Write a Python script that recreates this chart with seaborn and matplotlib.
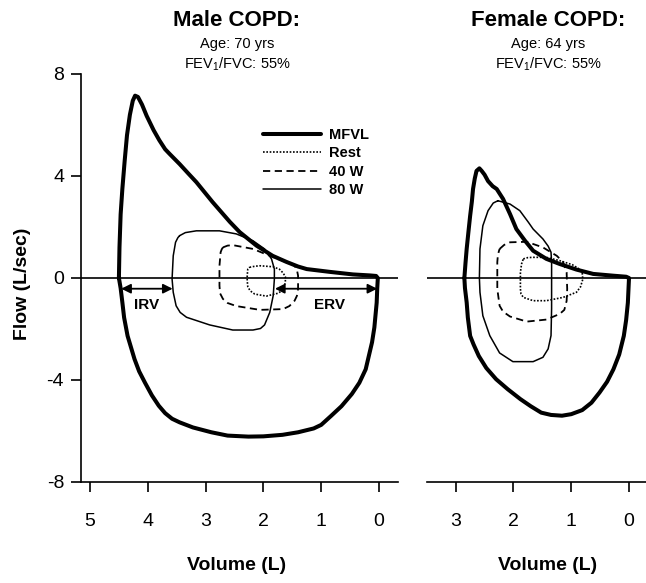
import matplotlib
matplotlib.use("Agg")
import matplotlib.pyplot as plt
from matplotlib.lines import Line2D
import seaborn as sns
import pandas as pd

sns.set_theme(style="white")
plt.rcParams["font.family"] = ["Liberation Sans", "DejaVu Sans"]
plt.rcParams["mathtext.fontset"] = "custom"
plt.rcParams["mathtext.rm"] = "Liberation Sans"
plt.rcParams["mathtext.default"] = "rm"
plt.rcParams["axes.unicode_minus"] = False
plt.rcParams["text.color"] = "black"
plt.rcParams["xtick.color"] = "black"
plt.rcParams["ytick.color"] = "black"

# ---------------- Male COPD (volume in L, flow in L/sec) ----------------
male_mfvl_vol = [4.50, 4.49, 4.47, 4.44, 4.40, 4.36, 4.31, 4.26, 4.22, 4.17, 4.10, 4.02, 3.90,
                 3.80, 3.70, 3.62, 3.45, 3.30, 3.16, 2.88, 2.58, 2.41, 2.12, 1.84, 1.60, 1.40,
                 1.25, 0.85, 0.45, 0.15, 0.05, 0.02,
                 0.03, 0.04, 0.08, 0.12, 0.23, 0.34, 0.47, 0.65, 0.83, 1.00, 1.13, 1.40, 1.67,
                 2.00, 2.26, 2.62, 2.90, 3.22, 3.45, 3.58, 3.70, 3.81, 3.93, 4.05, 4.15, 4.23,
                 4.35, 4.41, 4.44, 4.47, 4.50]
male_mfvl_flow = [0.00, 1.20, 2.50, 3.50, 4.60, 5.60, 6.40, 6.95, 7.15, 7.10, 6.80, 6.36, 5.80,
                  5.40, 5.05, 4.86, 4.47, 4.10, 3.76, 2.98, 2.20, 1.80, 1.27, 0.87, 0.63, 0.45,
                  0.35, 0.24, 0.14, 0.10, 0.08, 0.00,
                  -0.40, -0.97, -1.94, -2.52, -3.58, -4.11, -4.55, -5.03, -5.41, -5.76, -5.90, -6.05, -6.15,
                  -6.21, -6.22, -6.18, -6.05, -5.86, -5.66, -5.52, -5.30, -5.01, -4.60, -4.10, -3.66, -3.18,
                  -2.27, -1.55, -0.96, -0.40, 0.00]

male_80w_vol = [3.45, 3.35, 3.16, 2.76, 2.47, 2.18, 1.98, 1.86, 1.81, 1.81, 1.83, 1.89, 1.98,
                2.05, 2.18, 2.53, 2.93, 3.33, 3.44, 3.51, 3.56, 3.58, 3.56, 3.52, 3.48, 3.45]
male_80w_flow = [1.66, 1.78, 1.85, 1.85, 1.73, 1.46, 1.14, 0.75, 0.35, -0.04, -0.69, -1.35, -1.84,
                 -1.98, -2.04, -2.04, -1.84, -1.54, -1.35, -1.09, -0.56, -0.04, 0.87, 1.40, 1.58, 1.66]

male_40w_vol = [2.70, 2.62, 2.53, 2.18, 1.89, 1.60, 1.46, 1.42, 1.40, 1.40, 1.42, 1.46, 1.55,
                1.66, 2.06, 2.47, 2.62, 2.70, 2.75, 2.76, 2.76, 2.74, 2.72, 2.70]
male_40w_flow = [1.20, 1.27, 1.29, 1.14, 0.87, 0.62, 0.48, 0.32, 0.09, -0.43, -0.70, -0.89, -1.10,
                 -1.22, -1.25, -1.10, -0.98, -0.82, -0.60, -0.30, 0.48, 1.01, 1.13, 1.20]

male_rest_vol = [2.24, 2.15, 2.06, 1.83, 1.72, 1.66, 1.62, 1.62, 1.64, 1.68, 1.75, 1.95, 2.15,
                 2.23, 2.27, 2.28, 2.28, 2.27, 2.24]
male_rest_flow = [0.42, 0.46, 0.48, 0.44, 0.34, 0.20, 0.05, -0.15, -0.36, -0.50, -0.60, -0.71, -0.63,
                  -0.50, -0.34, -0.10, 0.09, 0.35, 0.42]

# ---------------- Female COPD ----------------
female_mfvl_vol = [2.85, 2.83, 2.81, 2.78, 2.75, 2.72, 2.70, 2.67, 2.64, 2.59, 2.55, 2.50, 2.44,
                   2.36, 2.29, 2.18, 2.06, 1.95, 1.80, 1.66, 1.43, 1.20, 0.91, 0.62, 0.27, 0.05, 0.00,
                   0.01, 0.02, 0.05, 0.09, 0.17, 0.27, 0.38, 0.51, 0.65, 0.81, 1.00, 1.16, 1.35,
                   1.52, 1.70, 1.88, 2.10, 2.30, 2.47, 2.60, 2.69, 2.75, 2.79, 2.81, 2.84, 2.85]
female_mfvl_flow = [0.00, 0.60, 1.14, 1.80, 2.44, 3.00, 3.49, 3.90, 4.20, 4.30, 4.20, 4.05, 3.80,
                    3.60, 3.49, 3.10, 2.51, 1.92, 1.46, 1.07, 0.75, 0.55, 0.33, 0.16, 0.09, 0.05, 0.00,
                    -0.48, -0.97, -1.65, -2.27, -3.00, -3.58, -4.07, -4.49, -4.89, -5.18, -5.34, -5.40, -5.37,
                    -5.28, -5.03, -4.75, -4.36, -3.97, -3.53, -3.06, -2.61, -2.27, -1.55, -0.96, -0.39, 0.00]

female_80w_vol = [2.27, 2.06, 1.89, 1.74, 1.66, 1.49, 1.40, 1.35, 1.34, 1.34, 1.34, 1.35, 1.40,
                  1.49, 1.66, 2.01, 2.24, 2.41, 2.53, 2.58, 2.59, 2.58, 2.53, 2.44, 2.35, 2.27]
female_80w_flow = [3.03, 2.90, 2.64, 2.18, 1.92, 1.53, 1.25, 1.01, 0.60, 0.00, -1.20, -2.26, -2.78,
                   -3.11, -3.28, -3.28, -2.94, -2.26, -1.48, -0.56, 0.00, 1.14, 2.05, 2.64, 2.94, 3.03]

female_40w_vol = [2.24, 2.16, 2.06, 1.77, 1.49, 1.25, 1.14, 1.08, 1.07, 1.08, 1.12, 1.20, 1.43,
                  1.77, 2.06, 2.18, 2.24, 2.28, 2.28, 2.27, 2.25, 2.24]
female_40w_flow = [1.14, 1.30, 1.40, 1.42, 1.20, 0.87, 0.62, 0.22, -0.43, -0.90, -1.25, -1.41, -1.63,
                   -1.71, -1.51, -1.32, -1.09, -0.43, 0.62, 0.90, 1.07, 1.14]

female_rest_vol = [1.83, 1.75, 1.66, 1.43, 1.20, 0.98, 0.88, 0.81, 0.80, 0.84, 0.91, 1.14, 1.43,
                   1.66, 1.83, 1.87, 1.88, 1.88, 1.86, 1.83]
female_rest_flow = [0.75, 0.80, 0.81, 0.81, 0.68, 0.52, 0.38, 0.20, -0.05, -0.35, -0.56, -0.76, -0.89,
                    -0.89, -0.76, -0.62, -0.43, 0.22, 0.55, 0.75]

legend_labels = ["MFVL", "Rest", "40 W", "80 W"]
volume_ticks_male = [5, 4, 3, 2, 1, 0]
volume_ticks_female = [3, 2, 1, 0]
flow_ticks = [8, 4, 0, -4, -8]

styles = {
    "MFVL": dict(lw=2.9, ls="-"),
    "Rest": dict(lw=1.2, ls=(0, (1, 1))),
    "40 W": dict(lw=1.3, ls=(0, (4, 2.5))),
    "80 W": dict(lw=1.1, ls="-"),
}

W, H = 646, 583
fig = plt.figure(figsize=(W / 100, H / 100), dpi=100)
ax1 = fig.add_axes([80.7 / W, (H - 482) / H, (398 - 80.7) / W, 408 / H])
ax2 = fig.add_axes([426.7 / W, (H - 482) / H, (W - 426.7) / W, 408 / H])


def draw_loop(ax, vol, flow, name):
    df = pd.DataFrame({"Volume": vol, "Flow": flow})
    sns.lineplot(data=df, x="Volume", y="Flow", ax=ax, sort=False, estimator=None,
                 color="black", linewidth=styles[name]["lw"], linestyle=styles[name]["ls"],
                 solid_joinstyle="round", solid_capstyle="round")


for ax in (ax1, ax2):
    ax.axhline(0, color="black", lw=1.2, zorder=1)

draw_loop(ax1, male_mfvl_vol, male_mfvl_flow, "MFVL")
draw_loop(ax1, male_rest_vol, male_rest_flow, "Rest")
draw_loop(ax1, male_40w_vol, male_40w_flow, "40 W")
draw_loop(ax1, male_80w_vol, male_80w_flow, "80 W")

draw_loop(ax2, female_mfvl_vol, female_mfvl_flow, "MFVL")
draw_loop(ax2, female_rest_vol, female_rest_flow, "Rest")
draw_loop(ax2, female_40w_vol, female_40w_flow, "40 W")
draw_loop(ax2, female_80w_vol, female_80w_flow, "80 W")

# IRV / ERV arrows on the male panel
arrow_kw = dict(arrowstyle="<|-|>", color="black", lw=1.3, mutation_scale=14,
                shrinkA=0, shrinkB=0)
ax1.annotate("", xy=(4.46, -0.42), xytext=(3.57, -0.42), arrowprops=arrow_kw)
ax1.annotate("", xy=(1.80, -0.42), xytext=(0.03, -0.42), arrowprops=arrow_kw)
ax1.text(4.02, -1.05, "IRV", ha="center", va="center", fontsize=11, fontweight="bold")
ax1.text(0.85, -1.05, "ERV", ha="center", va="center", fontsize=11, fontweight="bold")

# axes styling
ax1.set_xlim(5.161, -0.329)
ax2.set_xlim(3.502, -0.294)
for ax in (ax1, ax2):
    ax.set_ylim(-8, 8)
    ax.set_xlabel("")
    ax.set_ylabel("")
    ax.set_facecolor("white")
    for s in ("top", "right"):
        ax.spines[s].set_visible(False)
    ax.spines["bottom"].set_color("black")
    ax.spines["bottom"].set_linewidth(1.2)
    ax.tick_params(axis="x", direction="out", length=7, width=1.2, color="black",
                   labelsize=14, pad=15, bottom=True, labelcolor="black")

ax1.set_xticks(volume_ticks_male)
ax2.set_xticks(volume_ticks_female)
ax1.spines["left"].set_color("black")
ax1.spines["left"].set_linewidth(1.2)
ax1.set_yticks(flow_ticks)
ax1.tick_params(axis="y", direction="out", length=7, width=1.2, color="black",
                labelsize=14, pad=5, left=True, labelcolor="black")
ax2.spines["left"].set_visible(False)
ax2.set_yticks([])

# legend
handles = [Line2D([], [], color="black", linewidth=styles[n]["lw"], linestyle=styles[n]["ls"])
           for n in legend_labels]
leg = ax1.legend(handles, legend_labels, loc="upper left", bbox_to_anchor=(0.574, 0.868),
                 frameon=False, prop=dict(size=10.5, weight="bold"), handlelength=4.0,
                 handletextpad=0.55, labelspacing=0.3, borderaxespad=0, borderpad=0)
for t in leg.get_texts():
    t.set_color("black")

# titles and labels
fig.text(237 / W, 1 - 20 / H, "Male COPD:", ha="center", va="center", fontsize=16, fontweight="bold")
fig.text(237 / W, 1 - 44 / H, "Age: 70 yrs", ha="center", va="center", fontsize=10.5)
fig.text(237 / W, 1 - 64 / H, "FEV$_1$/FVC: 55%", ha="center", va="center", fontsize=10.5)
fig.text(548 / W, 1 - 20 / H, "Female COPD:", ha="center", va="center", fontsize=16, fontweight="bold")
fig.text(548 / W, 1 - 44 / H, "Age: 64 yrs", ha="center", va="center", fontsize=10.5)
fig.text(548 / W, 1 - 64 / H, "FEV$_1$/FVC: 55%", ha="center", va="center", fontsize=10.5)

fig.text(237 / W, 1 - 566 / H, "Volume (L)", ha="center", va="center", fontsize=14, fontweight="bold")
fig.text(548 / W, 1 - 566 / H, "Volume (L)", ha="center", va="center", fontsize=14, fontweight="bold")
fig.text(23 / W, 1 - 284 / H, "Flow (L/sec)", ha="center", va="center", fontsize=14,
         fontweight="bold", rotation=90)

fig.savefig("out.png", dpi=100, facecolor="white")
